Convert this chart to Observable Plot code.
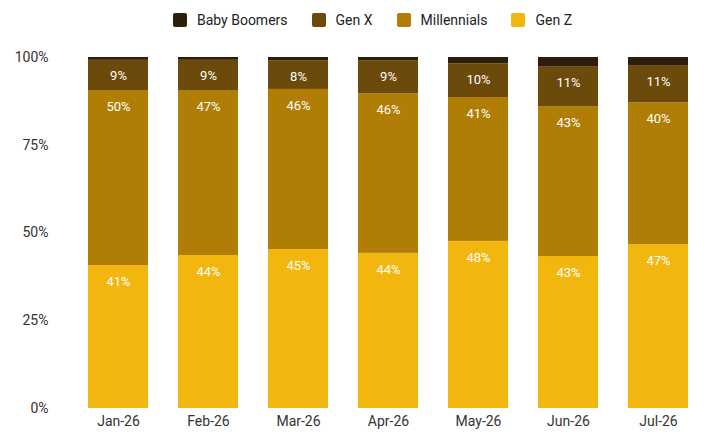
<!DOCTYPE html>
<html><head><meta charset="utf-8">
<script src="https://cdn.jsdelivr.net/npm/d3@7"></script>
<script src="https://cdn.jsdelivr.net/npm/@observablehq/plot@0.6"></script>
<style>
body{margin:0;font-family:Roboto,sans-serif;background:#fff}
#legend{height:40px;display:flex;justify-content:center;align-items:center;gap:24px;font-size:14px;color:#222;padding-left:20px;box-sizing:border-box}
#legend span{display:inline-flex;align-items:center;gap:10px}
#legend i{display:inline-block;width:14px;height:14px;border-radius:2px}
</style></head><body>
<div id="legend"></div>
<div id="chart"></div>
<script>
const months = ["Jan-26","Feb-26","Mar-26","Apr-26","May-26","Jun-26","Jul-26"];
const series = ["Baby Boomers","Gen X","Millennials","Gen Z"];
const colors = ["#2b1f0b","#6b4a0b","#b07d05","#f1b70f"];
const genZ = [40.7,43.6,45.3,44.2,47.6,43.3,46.7];
const millennials = [49.9,47.0,45.6,45.5,41.0,42.7,40.4];
const genX = [8.6,8.6,8.2,9.4,9.6,11.4,10.6];
const boomers = [0.8,0.8,0.9,0.9,1.8,2.6,2.3];
const yTicks = [0,0.25,0.5,0.75,1];

const order = {"Gen Z":0,"Millennials":1,"Gen X":2,"Baby Boomers":3};
const rows = [];
months.forEach((m,i)=>{
  rows.push({month:m,series:"Gen Z",v:genZ[i]/100,label:true});
  rows.push({month:m,series:"Millennials",v:millennials[i]/100,label:true});
  rows.push({month:m,series:"Gen X",v:genX[i]/100,label:true});
  rows.push({month:m,series:"Baby Boomers",v:boomers[i]/100,label:false});
});

document.getElementById("legend").innerHTML = series.map((s,i)=>`<span><i style="background:${colors[i]}"></i>${s}</span>`).join("");

const chart = Plot.plot({
  width:725, height:400,
  marginTop:17, marginBottom:32, marginLeft:55, marginRight:10,
  style:{fontFamily:"Roboto, sans-serif", fontSize:"14px", color:"#333"},
  x:{domain:months, range:[73,703], paddingInner:0.33, paddingOuter:0.165, label:null, tickSize:0, tickPadding:8},
  y:{domain:[0,1], ticks:yTicks, tickFormat:d3.format(".0%"), label:null, tickSize:0, tickPadding:7},
  color:{domain:series, range:colors},
  marks:[
    Plot.ruleY(yTicks.slice(1),{stroke:"#ccc", x1:55, x2:715}),
    Plot.barY(rows, Plot.stackY({x:"month", y:"v", fill:"series", order:d=>order[d.series]})),
    Plot.text(rows, Plot.stackY2({x:"month", y:"v", z:"series", order:d=>order[d.series],
      text:d=>d.label?Math.round(d.v*100)+"%":"", fill:"white", fontSize:13, dy:16})),
    Plot.ruleY([0],{stroke:"#333", strokeWidth:1.2, x1:55, x2:715})
  ]
});
document.getElementById("chart").appendChild(chart);
</script>
</body></html>
